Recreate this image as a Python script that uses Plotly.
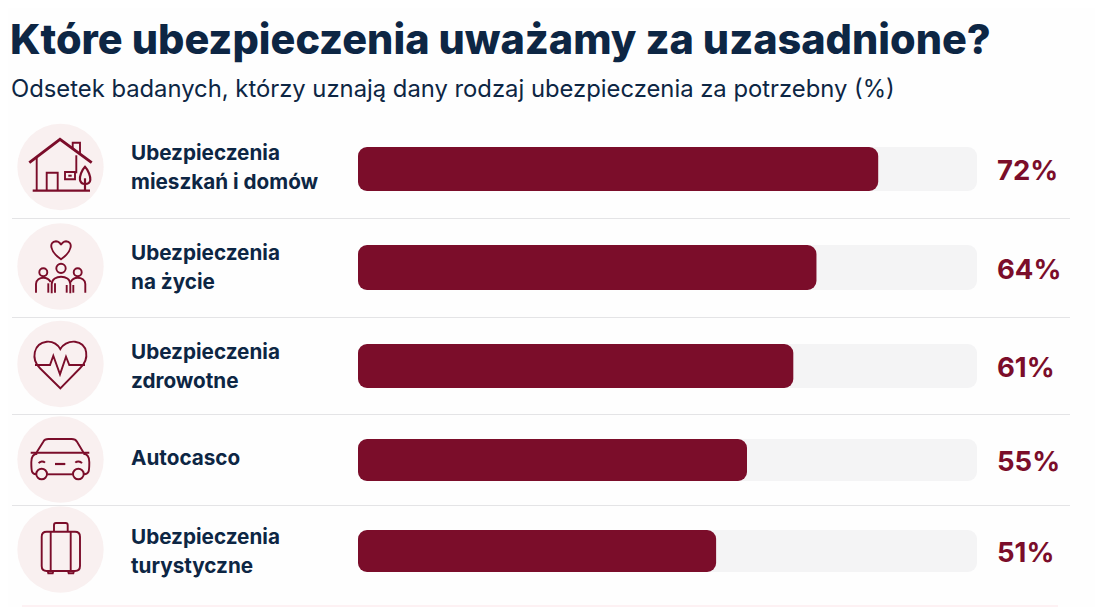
import plotly.graph_objects as go

# Dane z wykresu
labels = [
    "Ubezpieczenia<br>mieszkań i domów",
    "Ubezpieczenia<br>na życie",
    "Ubezpieczenia<br>zdrowotne",
    "Autocasco",
    "Ubezpieczenia<br>turystyczne",
]
values = [72, 64, 61, 55, 51]
value_labels = ["72%", "64%", "61%", "55%", "51%"]

title = "Które ubezpieczenia uważamy za uzasadnione?"
subtitle = "Odsetek badanych, którzy uznają dany rodzaj ubezpieczenia za potrzebny (%)"

# Układ wierszy w pikselach strony
W, H = 1103, 607
PAGE_MARGIN = 8  # domyślny margines body na stronie
row_y = [169, 267.5, 366, 460, 551]
row_h = [44, 45, 44, 42, 42]
circle_y = [167, 266.5, 364, 459.5, 549.5]
label_y = [166.5, 266.5, 365.5, 457, 550.5]
sep_y = [218.5, 317.5, 414.5, 505.5]

# Oś wartości na wykresie nie zaczyna się od zera
X_MIN, X_MAX = 4.6, 84.8
BAR_L, BAR_R = 358, 977

DARK = "#7b0d2a"
NAVY = "#0d2644"
TRACK = "#f4f4f5"
PINK = "#f9f0f0"
LINE = "#e4e4e6"
FONT = "Inter"

fig = go.Figure()

# Tło paska
fig.add_trace(go.Bar(
    y=row_y, x=[X_MAX - X_MIN] * 5, base=X_MIN, width=row_h, orientation="h",
    marker=dict(color=TRACK, line_width=0), hoverinfo="skip", showlegend=False,
))
# Właściwe wartości
fig.add_trace(go.Bar(
    y=row_y, x=[v - X_MIN for v in values], base=X_MIN, width=row_h, orientation="h",
    marker=dict(color=DARK, line_width=0), showlegend=False,
))
# Pusty ślad, żeby powstała oś pikselowa x2
fig.add_trace(go.Scatter(x=[0], y=[0], xaxis="x2", yaxis="y", mode="none",
                         hoverinfo="skip", showlegend=False))


def px_path(parts, ox, oy):
    # Ikony są rysowane na powiększeniu 3x, tu wracają do pikseli strony
    out = []
    for part in parts:
        if isinstance(part, str):
            out.append(part)
        else:
            out.append(f"{ox + part[0] / 3:.1f},{oy + part[1] / 3:.1f}")
    return " ".join(out)


def circle_parts(cx, cy, r):
    k = r * 0.552
    return ["M", (cx - r, cy),
            "C", (cx - r, cy - k), (cx - k, cy - r), (cx, cy - r),
            "C", (cx + k, cy - r), (cx + r, cy - k), (cx + r, cy),
            "C", (cx + r, cy + k), (cx + k, cy + r), (cx, cy + r),
            "C", (cx - k, cy + r), (cx - r, cy + k), (cx - r, cy), "Z"]


shapes = []


def stroke(parts, ox, oy, width=1.9):
    shapes.append(dict(type="path", xref="x2", yref="y", path=px_path(parts, ox, oy),
                       line=dict(color=DARK, width=width), fillcolor="rgba(0,0,0,0)",
                       layer="above"))


# Koła pod ikonami
for cy in circle_y:
    shapes.append(dict(type="circle", xref="x2", yref="y", x0=60.5 - 43.2, x1=60.5 + 43.2,
                       y0=cy - 43.2, y1=cy + 43.2, fillcolor=PINK, line_width=0, layer="below"))

# Linie między wierszami
for y in sep_y:
    shapes.append(dict(type="line", xref="x2", yref="y", x0=12, x1=1070, y0=y, y1=y,
                       line=dict(color=LINE, width=1.2), layer="below"))

# Różowy panel przy dolnej krawędzi
shapes.append(dict(type="rect", xref="x2", yref="y", x0=22, x1=1058, y0=605, y1=610,
                   fillcolor="#fdf1f3", line_width=0, layer="below"))

# Dom
ox, oy = 0, 120
stroke(["M", (88, 128), "L", (180, 58), "L", (275, 128)], ox, oy, 2.8)
stroke(["M", (218, 88), "L", (218, 68), "L", (240, 68), "L", (240, 105)], ox, oy)
stroke(["M", (110, 112), "L", (110, 212)], ox, oy)
stroke(["M", (229, 106), "L", (229, 160)], ox, oy)
stroke(["M", (98, 212), "L", (270, 212)], ox, oy, 2.2)
stroke(["M", (140, 212), "L", (140, 158), "L", (173, 158), "L", (173, 212)], ox, oy)
stroke(["M", (195, 156), "L", (225, 156), "L", (225, 178), "L", (195, 178), "Z"], ox, oy)
stroke(["M", (205, 167), "L", (215, 167)], ox, oy, 2)
stroke(["M", (255, 140), "C", (245, 150), (238, 170), (240, 180),
        "C", (242, 190), (250, 192), (255, 192),
        "C", (262, 192), (270, 190), (271, 180),
        "C", (272, 170), (265, 150), (255, 140), "Z"], ox, oy, 2.2)
stroke(["M", (255, 175), "L", (255, 212)], ox, oy, 2.2)

# Rodzina
stroke(["M", (183, 418), "C", (150, 395), (145, 365), (168, 364),
        "C", (176, 364), (183, 371), (183, 376),
        "C", (183, 371), (191, 364), (198, 364),
        "C", (221, 365), (216, 395), (183, 418), "Z"], ox, oy)
stroke(circle_parts(183, 445, 14), ox, oy)
stroke(circle_parts(130, 457, 12), ox, oy)
stroke(circle_parts(233, 457, 12), ox, oy)
stroke(["M", (155, 520), "L", (155, 492), "C", (155, 477), (170, 470), (183, 470),
        "C", (197, 470), (211, 477), (211, 492), "L", (211, 520)], ox, oy)
stroke(["M", (108, 518), "L", (108, 492), "C", (108, 480), (120, 473), (130, 473),
        "C", (140, 473), (148, 478), (152, 486)], ox, oy)
stroke(["M", (256, 518), "L", (256, 492), "C", (256, 480), (244, 473), (233, 473),
        "C", (223, 473), (216, 478), (212, 486)], ox, oy)
stroke(["M", (145, 490), "L", (145, 518)], ox, oy)
stroke(["M", (165, 490), "L", (165, 518)], ox, oy)
stroke(["M", (200, 495), "L", (200, 518)], ox, oy)
stroke(["M", (220, 495), "L", (220, 518)], ox, oy)

# Serce
ox, oy = 0, 315
stroke(["M", (181, 220), "L", (120, 160), "C", (92, 132), (100, 85), (140, 80),
        "C", (160, 78), (175, 90), (181, 102),
        "C", (187, 90), (205, 78), (225, 80),
        "C", (264, 85), (270, 132), (240, 160), "Z"], ox, oy)
stroke(["M", (105, 150), "L", (150, 150), "L", (160, 122), "L", (180, 178),
        "L", (198, 125), "L", (208, 150), "L", (255, 150)], ox, oy)

# Samochód
stroke(["M", (110, 412), "L", (130, 380), "C", (133, 374), (138, 372), (145, 372),
        "L", (215, 372), "C", (222, 372), (228, 375), (231, 380), "L", (250, 412)], ox, oy)
stroke(["M", (92, 413), "L", (268, 413)], ox, oy)
stroke(["M", (108, 478), "C", (95, 476), (94, 470), (94, 442),
        "C", (94, 425), (100, 416), (112, 416)], ox, oy)
stroke(["M", (252, 478), "C", (267, 476), (268, 470), (268, 442),
        "C", (268, 425), (262, 416), (250, 416)], ox, oy)
stroke(["M", (142, 478), "L", (218, 478)], ox, oy)
stroke(circle_parts(125, 477, 16), ox, oy)
stroke(circle_parts(235, 477, 16), ox, oy)
stroke(["M", (116, 445), "C", (120, 438), (130, 438), (135, 443)], ox, oy)
stroke(["M", (226, 443), "C", (231, 438), (241, 438), (246, 445)], ox, oy)
stroke(["M", (165, 447), "L", (196, 447)], ox, oy, 2.2)

# Walizka
stroke(["M", (140, 650), "L", (225, 650), "C", (235, 650), (240, 656), (240, 665),
        "L", (240, 753), "C", (240, 762), (235, 768), (225, 768),
        "L", (140, 768), "C", (130, 768), (125, 762), (125, 753),
        "L", (125, 665), "C", (125, 656), (130, 650), (140, 650), "Z"], ox, oy)
stroke(["M", (152, 650), "L", (152, 768)], ox, oy)
stroke(["M", (212, 650), "L", (212, 768)], ox, oy)
stroke(["M", (162, 650), "L", (162, 630), "C", (162, 626), (164, 624), (168, 624),
        "L", (197, 624), "C", (201, 624), (203, 626), (203, 630), "L", (203, 650)], ox, oy)
stroke(["M", (143, 768), "L", (145, 775), "L", (158, 775), "L", (160, 768)], ox, oy)
stroke(["M", (204, 768), "L", (206, 775), "L", (220, 775), "L", (222, 768)], ox, oy)

annotations = [
    dict(text=title, x=8, y=38.5, font=dict(size=41.4, color=NAVY, weight=800)),
    dict(text=subtitle, x=8.5, y=88, font=dict(size=23.8, color=NAVY, weight=400)),
]
for i, lab in enumerate(labels):
    lines = lab.split("<br>")
    for j, line in enumerate(lines):
        annotations.append(dict(text=line, x=129, y=label_y[i] + (j - (len(lines) - 1) / 2) * 29,
                                font=dict(size=20.7, color=NAVY, weight=700)))
    annotations.append(dict(text=value_labels[i], x=995, y=row_y[i] + 1,
                            font=dict(size=27.5, color=DARK, weight=700)))
for a in annotations:
    a.update(xref="x2", yref="y", xanchor="left", yanchor="middle", showarrow=False, align="left")
    a["font"]["family"] = FONT

# Strona ma margines 8 px, więc wykres jest o tyle mniejszy
fig.update_layout(
    width=W - PAGE_MARGIN, height=H - PAGE_MARGIN, margin=dict(l=0, r=0, t=0, b=0),
    paper_bgcolor="#fefefe", plot_bgcolor="rgba(0,0,0,0)",
    barmode="overlay", barcornerradius=9,
    xaxis=dict(domain=[(BAR_L - PAGE_MARGIN) / (W - PAGE_MARGIN), (BAR_R - PAGE_MARGIN) / (W - PAGE_MARGIN)],
               range=[X_MIN, X_MAX], visible=False),
    xaxis2=dict(domain=[0, 1], range=[PAGE_MARGIN, W], anchor="y", visible=False),
    yaxis=dict(domain=[0, 1], range=[H, PAGE_MARGIN], visible=False),
    shapes=shapes, annotations=annotations,
)

fig.write_html("out.html")
